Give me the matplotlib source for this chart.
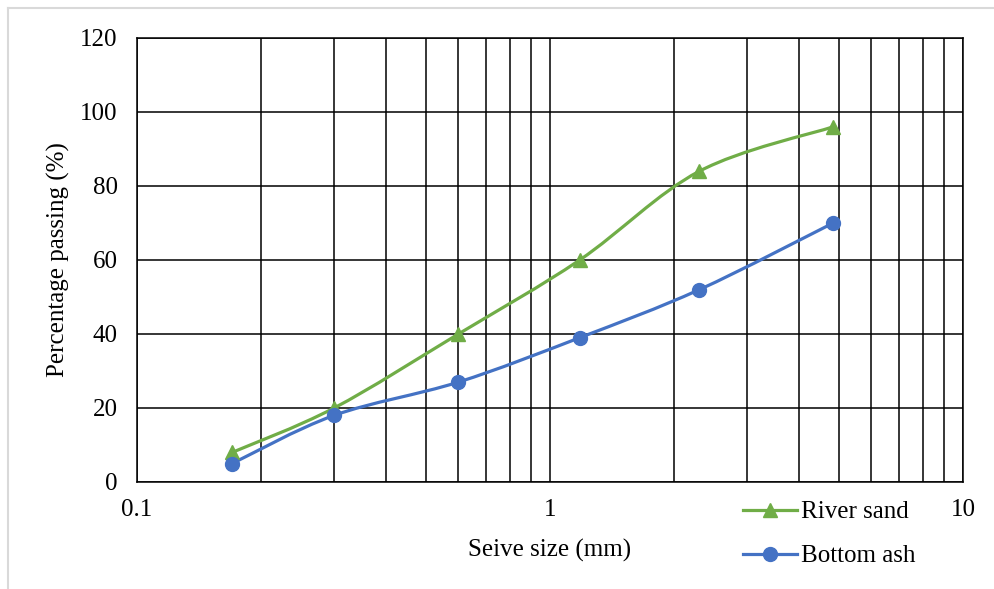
import numpy as np
import matplotlib
matplotlib.use('Agg')
import matplotlib.pyplot as plt
from matplotlib.path import Path
from matplotlib.patches import PathPatch
from matplotlib.lines import Line2D
from matplotlib.ticker import FixedLocator, LogLocator, NullFormatter

#data
sieve_sand = [0.17, 0.3, 0.6, 1.18, 2.3, 4.85]
river_sand = [8, 20, 40, 60, 84, 96]
sieve_ash = [0.17, 0.3, 0.6, 1.18, 2.3, 4.85]
bottom_ash = [5, 18, 27, 39, 52, 70]
x_ticks = [0.1, 1, 10]
x_tick_labels = ['0.1', '1', '10']
y_ticks = [0, 20, 40, 60, 80, 100, 120]

green = '#70AD47'
blue = '#4472C4'
fs = 18

plt.rcParams['font.family'] = ['Liberation Serif', 'DejaVu Serif']


def smooth_path(xs, ys):
    #excel style smoothed line, bezier segments in log-x space
    lx = np.log10(xs)
    ys = np.asarray(ys, dtype=float)
    pts = np.column_stack([lx, ys])
    n = len(pts)
    verts = [pts[0]]
    codes = [Path.MOVETO]
    for i in range(n - 1):
        p0 = pts[i - 1] if i > 0 else pts[i]
        p1 = pts[i]
        p2 = pts[i + 1]
        p3 = pts[i + 2] if i + 2 < n else pts[i + 1]
        c1 = p1 + (p2 - p0) / 6.0
        c2 = p2 - (p3 - p1) / 6.0
        verts += [c1, c2, p2]
        codes += [Path.CURVE4] * 3
    verts = np.array(verts)
    verts[:, 0] = 10 ** verts[:, 0]
    return Path(verts, codes)


fig = plt.figure(figsize=(9.94, 5.89), dpi=100)
ax = fig.add_axes([137 / 994, 1 - 482 / 589, (963 - 137) / 994, (482 - 38) / 589])

ax.set_xscale('log')
ax.set_xlim(0.1, 10)
ax.set_ylim(0, 120)

ax.xaxis.set_major_locator(FixedLocator(x_ticks))
ax.set_xticklabels(x_tick_labels)
ax.xaxis.set_minor_locator(LogLocator(base=10, subs=np.arange(2, 10)))
ax.xaxis.set_minor_formatter(NullFormatter())
ax.set_yticks(y_ticks)

ax.grid(True, which='both', color='black', linewidth=1.1)
ax.set_axisbelow(True)
for s in ax.spines.values():
    s.set_color('black')
    s.set_linewidth(1.1)
ax.tick_params(which='both', length=0, labelsize=fs)
ax.tick_params(axis='x', pad=12)
ax.tick_params(axis='y', pad=14)

ax.add_patch(PathPatch(smooth_path(sieve_sand, river_sand), facecolor='none',
                       edgecolor=green, linewidth=2.3, zorder=3))
ax.add_patch(PathPatch(smooth_path(sieve_ash, bottom_ash), facecolor='none',
                       edgecolor=blue, linewidth=2.3, zorder=3))
ax.plot(sieve_sand, river_sand, linestyle='none', marker='^', markersize=10.5,
        color=green, zorder=4, clip_on=False)
ax.plot(sieve_ash, bottom_ash, linestyle='none', marker='o', markersize=10,
        color=blue, zorder=4, clip_on=False)

ax.set_xlabel('Seive size (mm)', fontsize=fs, labelpad=13)
ax.set_ylabel('Percentage passing (%)', fontsize=fs, labelpad=7)

handles = [Line2D([], [], color=green, linewidth=2.3, marker='^', markersize=10.5),
           Line2D([], [], color=blue, linewidth=2.3, marker='o', markersize=10)]
fig.legend(handles, ['River sand', 'Bottom ash'], loc='upper left',
           bbox_to_anchor=(743 / 994, 1 - 501 / 589), frameon=False,
           fontsize=fs, handlelength=2.16, handletextpad=0.16, labelspacing=0.86,
           borderaxespad=0, borderpad=0)

#outer chart border (only left/top visible in the crop)
fig.add_artist(Line2D([8 / 994, 8 / 994], [0, 1 - 8 / 589], color='#D9D9D9',
                      linewidth=1.5, transform=fig.transFigure))
fig.add_artist(Line2D([8 / 994, 1], [1 - 8 / 589, 1 - 8 / 589], color='#D9D9D9',
                      linewidth=1.5, transform=fig.transFigure))

fig.savefig('out.png', dpi=100)
